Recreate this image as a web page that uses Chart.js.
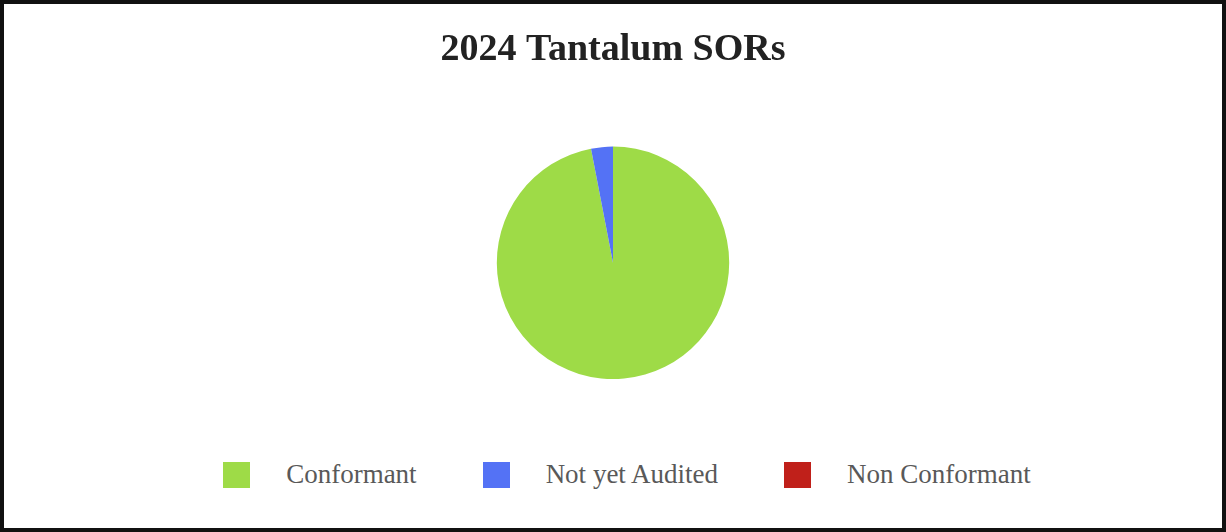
<!DOCTYPE html>
<html lang="en">
<head>
    <meta charset="UTF-8">
    <title>2024 Tantalum SORs</title>
    <script src="https://cdn.jsdelivr.net/npm/chart.js@4.4.1/dist/chart.umd.min.js"></script>
    <style>
        body { margin: 0; background: #fff; }
        #frame {
            position: relative;
            width: 1226px; height: 532px;
            box-sizing: border-box;
            border: 4px solid #111;
            background: #fff;
        }
        #box { position: absolute; left: 0; top: 0; width: 1218px; height: 440px; }
        #legend {
            position: absolute; left: 28px; right: 0; top: 455px;
            display: flex; justify-content: center; align-items: center;
            font-family: "Liberation Serif", "Times New Roman", serif;
            font-size: 27px; color: #595959;
        }
        .item { display: flex; align-items: center; margin: 0 33px; }
        .swatch { width: 27px; height: 26px; margin-right: 36px; }
    </style>
</head>
<body>
<div id="frame">
    <div id="box"><canvas id="myChart"></canvas></div>
    <div id="legend"></div>
</div>
<script>
    var labels = ['Conformant', 'Not yet Audited', 'Non Conformant'];
    var values = [32, 1, 0];
    var colors = ['#9edb47', '#5472f5', '#c0201a'];

    var ctx = document.getElementById('myChart').getContext('2d');
    var chart = new Chart(ctx, {
        type: 'pie',
        data: {
            labels: labels,
            datasets: [{
                data: values,
                backgroundColor: colors,
                borderWidth: 0
            }]
        },
        options: {
            responsive: true,
            maintainAspectRatio: false,
            animation: false,
            layout: { padding: { bottom: 65 } },
            plugins: {
                title: {
                    display: true,
                    text: '2024 Tantalum SORs',
                    color: '#222',
                    font: { family: '"Liberation Serif", "Times New Roman", serif', size: 38, weight: 'bold' },
                    padding: { top: 23, bottom: 74 }
                },
                legend: { display: false },
                tooltip: { enabled: false }
            }
        }
    });

    var legend = document.getElementById('legend');
    labels.forEach(function (l, i) {
        var item = document.createElement('div');
        item.className = 'item';
        var sw = document.createElement('span');
        sw.className = 'swatch';
        sw.style.background = colors[i];
        var txt = document.createElement('span');
        txt.textContent = l;
        item.appendChild(sw);
        item.appendChild(txt);
        legend.appendChild(item);
    });
</script>
</body>
</html>
